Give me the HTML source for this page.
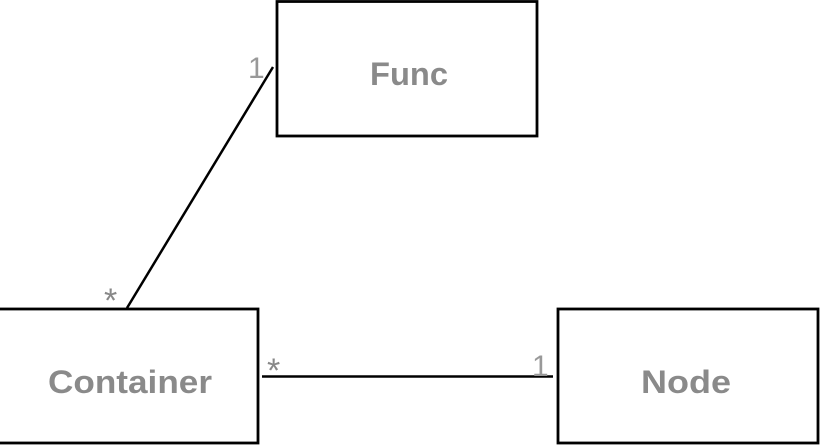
<!DOCTYPE html>
<html><head><style>
html,body{margin:0;padding:0;background:#fff;width:820px;height:446px;overflow:hidden}
</style></head><body>
<svg width="820" height="446" xmlns="http://www.w3.org/2000/svg" style="display:block">
<g fill="#fff" stroke="#000" stroke-width="2.8">
<rect x="277" y="1.5" width="260" height="134.5"/>
<rect x="-5" y="309" width="263" height="134"/>
<rect x="558" y="309" width="260" height="134"/>
</g>
<g stroke="#000" stroke-width="2.5">
<line x1="273" y1="67" x2="127" y2="308"/>
<line x1="262" y1="376.5" x2="553" y2="376.5"/>
</g>
<g font-family="'Liberation Sans',sans-serif" font-weight="bold" font-size="32" fill="#8a8a8a" text-anchor="middle">
<text x="409" y="85" textLength="78" lengthAdjust="spacingAndGlyphs">Func</text>
<text x="130" y="393" textLength="164" lengthAdjust="spacingAndGlyphs">Container</text>
<text x="686" y="393" textLength="90" lengthAdjust="spacingAndGlyphs">Node</text>
</g>
<g font-family="'Liberation Sans',sans-serif" font-size="30" fill="#999">
<text x="248" y="78">1</text>
<text x="532" y="376">1</text>
</g>
<g font-family="'Liberation Sans',sans-serif" font-size="34" fill="#888">
<text x="104" y="312">*</text>
<text x="267" y="382">*</text>
</g>
</svg>
</body></html>
